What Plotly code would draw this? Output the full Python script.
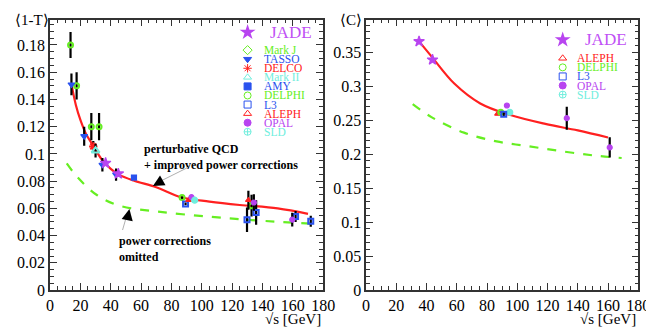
import plotly.graph_objects as go

W, H = 654, 329

# ---- <1-T> data (left panel) ----
jade_t_x = [36.6, 45.0]
jade_t_y = [0.0933, 0.0855]
jade_t_e = [0.002, 0.002]
markj_x = [13.5, 17.5, 27.2, 32.3]
markj_y = [0.180, 0.150, 0.120, 0.120]
markj_e = [0.0095, 0.010, 0.010, 0.010]
tasso_x = [14.1, 22.5, 34.5, 43.5]
tasso_y = [0.151, 0.113, 0.092, 0.0848]
tasso_e = [0.008, 0.007, 0.005, 0.0045]
delco_x = [28.5]
delco_y = [0.1055]
delco_e = [0.004]
markii_x = [30.0]
markii_y = [0.1024]
markii_e = [0.005]
amy_x = [55.3]
amy_y = [0.0826]
amy_e = [0.0015]
delphi_t_x = [87.0, 132.8]
delphi_t_y = [0.0679, 0.062]
delphi_t_e = [0.001, 0.008]
l3_t_x = [89.3, 129.8, 135.8, 161.8, 171.8]
l3_t_y = [0.0633, 0.0517, 0.0569, 0.054, 0.0505]
l3_t_e = [0.001, 0.009, 0.009, 0.004, 0.004]
aleph_t_x = [91.3, 130.7]
aleph_t_y = [0.066, 0.066]
aleph_t_e = [0.001, 0.007]
opal_t_x = [93.2, 134.3, 159.6]
opal_t_y = [0.0683, 0.0643, 0.0517]
opal_t_e = [0.001, 0.006, 0.005]
sld_t_x = [95.3]
sld_t_y = [0.066]
sld_t_e = [0.001]

qcd_t_x = [14, 17, 20, 24, 28.5, 34, 40, 45, 55, 70, 87, 105, 125, 150, 170]
qcd_t_y = [0.152, 0.136, 0.125, 0.114, 0.106, 0.096, 0.089, 0.085, 0.0805,
           0.0755, 0.068, 0.065, 0.0625, 0.0600, 0.056]
nopc_t_x = [11, 18, 30.6, 45.6, 71.3, 103.5, 135.6, 172]
nopc_t_y = [0.093, 0.083, 0.070, 0.062, 0.0576, 0.054, 0.0512, 0.0488]

# ---- <C> data (right panel) ----
jade_c_x = [35.0, 43.9]
jade_c_y = [0.366, 0.339]
jade_c_e = [0.002, 0.002]
aleph_c_x = [86.9]
aleph_c_y = [0.2593]
delphi_c_x = [89.0]
delphi_c_y = [0.2617]
l3_c_x = [91.0]
l3_c_y = [0.2588]
l3_c_e = [0.004]
opal_c_x = [93.1, 132.7, 161.1]
opal_c_y = [0.2717, 0.253, 0.210]
opal_c_e = [0.002, 0.017, 0.015]
sld_c_x = [95.0]
sld_c_y = [0.2617]

qcd_c_x = [35, 43.2, 58.3, 75.5, 94.8, 118.5, 140, 160]
qcd_c_y = [0.366, 0.344, 0.304, 0.2747, 0.258, 0.2446, 0.235, 0.2245]
nopc_c_x = [30.8, 43.2, 64.7, 86.3, 107.7, 129.2, 150.8, 169]
nopc_c_y = [0.2737, 0.2546, 0.2317, 0.2188, 0.2116, 0.2044, 0.1981, 0.1944]

PURPLE = "#b844f0"
GREEN = "#66ee22"
BLUE = "#2a52ee"
RED = "#ff2020"
CYAN = "#70eedd"
SERIF = "Liberation Serif, Times New Roman, serif"

fig = go.Figure()


def pts(x, y, err, sym, color, size, ax="x", ay="y", lw=1.2):
    fig.add_trace(go.Scatter(
        x=x, y=y, mode="markers", xaxis=ax, yaxis=ay, showlegend=False,
        marker=dict(symbol=sym, color=color, size=size, line=dict(color=color, width=lw)),
        error_y=dict(type="data", array=err, color="black", thickness=2.2, width=0) if err else None))


def curve(x, y, color, dash, ax="x", ay="y"):
    fig.add_trace(go.Scatter(
        x=x, y=y, mode="lines", xaxis=ax, yaxis=ay, showlegend=False,
        line=dict(color=color, width=2.2, dash=dash, shape="spline")))


# left panel
curve(nopc_t_x, nopc_t_y, GREEN, "dash")
curve(qcd_t_x, qcd_t_y, RED, "solid")
pts(markj_x, markj_y, markj_e, "circle-open", GREEN, 5, lw=2)
pts(tasso_x, tasso_y, tasso_e, "triangle-down", BLUE, 6)
pts(delco_x, delco_y, delco_e, "asterisk-open", RED, 7, lw=2)
pts(markii_x, markii_y, markii_e, "triangle-up-open", CYAN, 7, lw=2)
pts(jade_t_x, jade_t_y, jade_t_e, "star", PURPLE, 8)
pts(amy_x, amy_y, amy_e, "square", BLUE, 5)
pts(delphi_t_x, delphi_t_y, delphi_t_e, "circle-open", GREEN, 5, lw=2)
pts(l3_t_x, l3_t_y, l3_t_e, "square-open", BLUE, 5, lw=2)
pts(aleph_t_x, aleph_t_y, aleph_t_e, "triangle-up", RED, 5)
pts(opal_t_x, opal_t_y, opal_t_e, "circle", PURPLE, 5)
pts(sld_t_x, sld_t_y, sld_t_e, "circle", CYAN, 6)

# right panel
curve(nopc_c_x, nopc_c_y, GREEN, "dash", "x2", "y2")
curve(qcd_c_x, qcd_c_y, RED, "solid", "x2", "y2")
pts(jade_c_x, jade_c_y, jade_c_e, "star", PURPLE, 8, "x2", "y2")
pts(aleph_c_x, aleph_c_y, None, "triangle-up", RED, 5, "x2", "y2")
pts(delphi_c_x, delphi_c_y, None, "circle-open", GREEN, 5, "x2", "y2", lw=2)
pts(opal_c_x, opal_c_y, opal_c_e, "circle", PURPLE, 5, "x2", "y2")
pts(sld_c_x, sld_c_y, None, "circle", CYAN, 6, "x2", "y2")
pts(l3_c_x, l3_c_y, l3_c_e, "square-open", BLUE, 5, "x2", "y2", lw=2)

# legends (drawn on a pixel overlay)
left_leg = [("Mark J", "diamond-open", GREEN), ("TASSO", "triangle-down", BLUE),
            ("DELCO", "asterisk-open", RED), ("Mark II", "triangle-up-open", CYAN),
            ("AMY", "square", BLUE), ("DELPHI", "circle-open", GREEN),
            ("L3", "square-open", BLUE), ("ALEPH", "triangle-up-open", RED),
            ("OPAL", "circle", PURPLE), ("SLD", "circle-cross-open", CYAN)]
right_leg = [left_leg[7], left_leg[5], left_leg[6], left_leg[8], left_leg[9]]
annotations = []


def legend(entries, mx, tx, jy, y0):
    fig.add_trace(go.Scatter(x=[mx], y=[jy], mode="markers", xaxis="x3", yaxis="y3",
                             showlegend=False, marker=dict(symbol="star", size=12, color=PURPLE)))
    annotations.append(dict(xref="paper", yref="paper", x=(mx + 21) / W, y=1 - jy / H,
                            text="JADE", showarrow=False, xanchor="left", yanchor="middle",
                            font=dict(family=SERIF, size=17, color="#c050f5")))
    for i, (name, sym, col) in enumerate(entries):
        yy = y0 + i * 9.33
        fig.add_trace(go.Scatter(x=[mx], y=[yy], mode="markers", xaxis="x3", yaxis="y3",
                                 showlegend=False,
                                 marker=dict(symbol=sym, size=7, color=col, line=dict(color=col, width=1))))
        annotations.append(dict(xref="paper", yref="paper", x=tx / W, y=1 - yy / H,
                                text=name, showarrow=False, xanchor="left", yanchor="middle",
                                font=dict(family=SERIF, size=11.5, color=col)))


legend(left_leg, 241.5, 256, 25, 43.3)
legend(right_leg, 564.5, 577, 32.7, 51.7)

bold = dict(family=SERIF, size=12, color="black")
annotations += [
    dict(x=60.5, y=0.1105, xref="x", yref="y", xanchor="left", yanchor="top", align="left",
         text="<b>perturbative QCD<br>+ improved power corrections</b>", showarrow=False, font=bold),
    dict(x=44.2, y=0.0425, xref="x", yref="y", xanchor="left", yanchor="top", align="left",
         text="<b>power corrections<br>omitted</b>", showarrow=False, font=bold),
    # thin grey leader lines
    dict(x=71.0, y=0.0790, ax=92.0, ay=0.0907, xref="x", yref="y", axref="x", ayref="y",
         text="", showarrow=True, arrowhead=0, arrowwidth=1, arrowcolor="#b0b0b0"),
    dict(x=51.0, y=0.0565, ax=47.5, ay=0.0430, xref="x", yref="y", axref="x", ayref="y",
         text="", showarrow=True, arrowhead=0, arrowwidth=1, arrowcolor="#b0b0b0"),
    # black arrow heads
    dict(x=67.8, y=0.0765, ax=9, ay=-5, xref="x", yref="y", text="", showarrow=True,
         arrowhead=2, arrowsize=1.5, arrowwidth=1.5, arrowcolor="black"),
    dict(x=52.3, y=0.0595, ax=-2, ay=10, xref="x", yref="y", text="", showarrow=True,
         arrowhead=2, arrowsize=1.5, arrowwidth=1.5, arrowcolor="black"),
    # axis titles
    dict(xref="paper", yref="paper", x=1 / W, y=1 - 12 / H, xanchor="left", yanchor="middle",
         text="⟨1-T⟩", showarrow=False, font=dict(family=SERIF, size=15, color="black")),
    dict(xref="paper", yref="paper", x=334 / W, y=1 - 12 / H, xanchor="left", yanchor="middle",
         text="⟨C⟩", showarrow=False, font=dict(family=SERIF, size=15, color="black")),
    dict(xref="paper", yref="paper", x=319 / W, y=1 - 320 / H, xanchor="right", yanchor="middle",
         text="√s [GeV]", showarrow=False, font=dict(family=SERIF, size=15, color="black")),
    dict(xref="paper", yref="paper", x=642 / W, y=1 - 320 / H, xanchor="right", yanchor="middle",
         text="√s [GeV]", showarrow=False, font=dict(family=SERIF, size=15, color="black")),
]

t_ticks = [0, 0.02, 0.04, 0.06, 0.08, 0.1, 0.12, 0.14, 0.16, 0.18]
c_ticks = [0, 0.05, 0.1, 0.15, 0.2, 0.25, 0.3, 0.35]
x_ticks = [0, 20, 40, 60, 80, 100, 120, 140, 160, 180]

axis = dict(ticks="inside", ticklen=7, tickwidth=1, tickcolor="#333", showline=True,
            linecolor="#333", linewidth=1.5, mirror="ticks", showgrid=False, zeroline=False,
            tickfont=dict(family=SERIF, size=16, color="black"))
ydom = [1 - 290 / H, 1 - 12 / H]

fig.update_layout(
    width=W, height=H, margin=dict(l=0, r=0, t=0, b=0),
    paper_bgcolor="white", plot_bgcolor="rgba(0,0,0,0)", showlegend=False,
    xaxis=dict(axis, domain=[39 / W, 319 / W], range=[0, 180], tickvals=x_ticks,
               minor=dict(dtick=5, ticklen=4, ticks="inside", tickcolor="#333"), anchor="y"),
    yaxis=dict(axis, domain=ydom, range=[0, 0.1986], tickvals=t_ticks,
               ticktext=[str(v) for v in t_ticks],
               minor=dict(dtick=0.005, ticklen=4, ticks="inside", tickcolor="#333"), anchor="x"),
    xaxis2=dict(axis, domain=[363 / W, 642 / W], range=[0, 180], tickvals=x_ticks,
                minor=dict(dtick=5, ticklen=4, ticks="inside", tickcolor="#333"), anchor="y2"),
    yaxis2=dict(axis, domain=ydom, range=[0, 0.398], tickvals=c_ticks,
                ticktext=[str(v) for v in c_ticks],
                minor=dict(dtick=0.01, ticklen=4, ticks="inside", tickcolor="#333"), anchor="x2"),
    xaxis3=dict(domain=[0, 1], range=[0, W], visible=False, anchor="y3"),
    yaxis3=dict(domain=[0, 1], range=[H, 0], visible=False, anchor="x3"),
    annotations=annotations,
)

fig.write_html("out.html")
